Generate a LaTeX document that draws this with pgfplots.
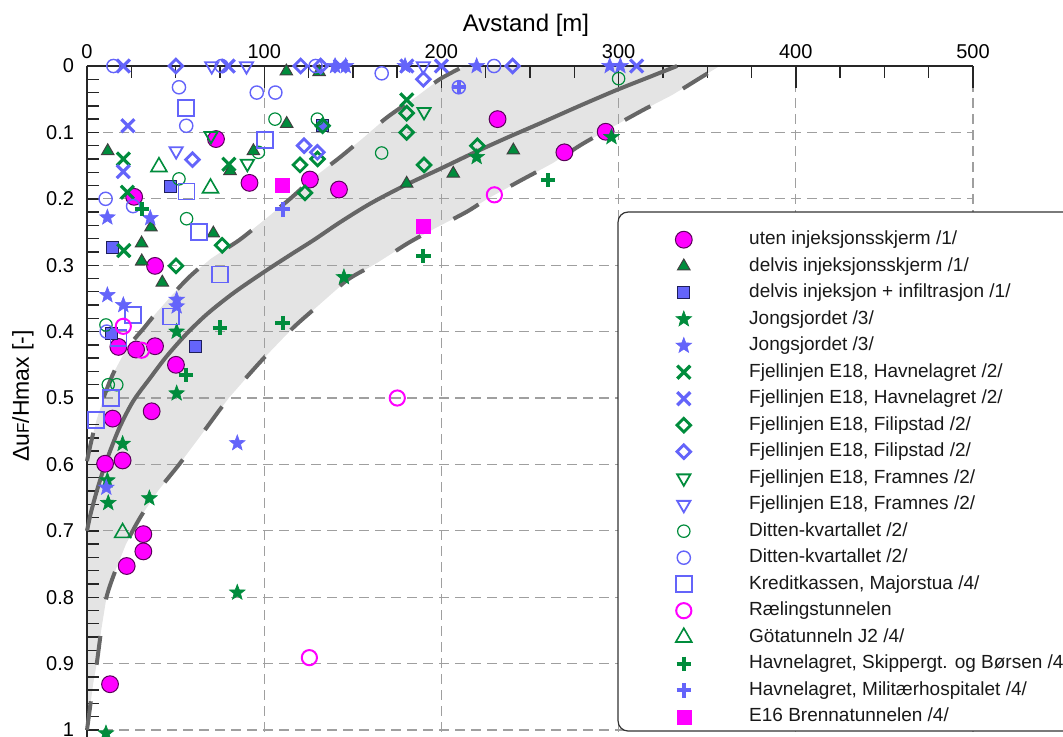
\documentclass[border=0pt]{standalone}
\usepackage{fontspec}
\setmainfont{Liberation Sans}
\usepackage{pgfplots}
\pgfplotsset{compat=1.18}
\usetikzlibrary{plotmarks}
\definecolor{mag}{RGB}{255,0,255}
\definecolor{magd}{RGB}{90,0,90}
\definecolor{grn}{RGB}{0,140,60}
\definecolor{blu}{RGB}{100,100,250}
\definecolor{blud}{RGB}{30,30,90}
\definecolor{crv}{RGB}{102,102,102}
\definecolor{band}{RGB}{228,228,228}

\pgfdeclareplotmark{fstar}{%
  \pgfpathmoveto{\pgfpointpolar{90}{\pgfplotmarksize}}%
  \pgfpathlineto{\pgfpointpolar{126}{0.42\pgfplotmarksize}}%
  \pgfpathlineto{\pgfpointpolar{162}{\pgfplotmarksize}}%
  \pgfpathlineto{\pgfpointpolar{198}{0.42\pgfplotmarksize}}%
  \pgfpathlineto{\pgfpointpolar{234}{\pgfplotmarksize}}%
  \pgfpathlineto{\pgfpointpolar{270}{0.42\pgfplotmarksize}}%
  \pgfpathlineto{\pgfpointpolar{306}{\pgfplotmarksize}}%
  \pgfpathlineto{\pgfpointpolar{342}{0.42\pgfplotmarksize}}%
  \pgfpathlineto{\pgfpointpolar{18}{\pgfplotmarksize}}%
  \pgfpathlineto{\pgfpointpolar{54}{0.42\pgfplotmarksize}}%
  \pgfpathclose
  \pgfusepathqfillstroke
}

\pgfplotsset{
  leg/.style={only marks, legend image code/.code={\path (-20pt,0pt) (32.5pt,0pt);\draw[##1] plot coordinates {(0pt,0pt)};}},
  m1/.style={mark=*, mark size=4.2pt, mark options={fill=mag, draw=magd, line width=0.5pt}},
  m2/.style={mark=triangle*, mark size=3.6pt, mark options={fill=grn, draw=black!75, line width=0.5pt}},
  m3/.style={mark=square*, mark size=3pt, mark options={fill=blu, draw=blud, line width=0.5pt}},
  m4/.style={mark=fstar, mark size=4.1pt, mark options={fill=grn, draw=grn, line width=0.3pt}},
  m5/.style={mark=fstar, mark size=4.1pt, mark options={fill=blu, draw=blu, line width=0.3pt}},
  m6/.style={mark=x, mark size=4.6pt, mark options={draw=grn, line width=1.6pt}},
  m7/.style={mark=x, mark size=4.6pt, mark options={draw=blu, line width=1.6pt}},
  m8/.style={mark=square, mark size=2.4pt, mark options={draw=grn, line width=1.4pt, rotate=45}},
  m9/.style={mark=square, mark size=2.4pt, mark options={draw=blu, line width=1.4pt, rotate=45}},
  m10/.style={mark=triangle, mark size=3.8pt, mark options={draw=grn, line width=0.9pt, rotate=180}},
  m11/.style={mark=triangle, mark size=3.8pt, mark options={draw=blu, line width=0.9pt, rotate=180}},
  m12/.style={mark=o, mark size=3.1pt, mark options={draw=grn, line width=0.6pt}},
  m13/.style={mark=o, mark size=3.3pt, mark options={draw=blu, line width=0.7pt}},
  m14/.style={mark=square, mark size=4pt, mark options={draw=blu, line width=0.8pt}},
  m15/.style={mark=o, mark size=3.8pt, mark options={draw=mag, line width=1pt}},
  m16/.style={mark=triangle, mark size=4.6pt, mark options={draw=grn, line width=0.8pt}},
  m17/.style={mark=+, mark size=3.6pt, mark options={draw=grn, line width=2pt}},
  m18/.style={mark=+, mark size=3.6pt, mark options={draw=blu, line width=2pt}},
  m19/.style={mark=square*, mark size=3.5pt, mark options={fill=mag, draw=mag, line width=0.2pt}},
}

\begin{document}
\begin{tikzpicture}
\begin{axis}[
  set layers,
  at={(0pt,0pt)}, anchor=north west,
  scale only axis, width=443pt, height=338.64pt,
  xmin=0, xmax=500, ymin=0, ymax=1.02,
  y dir=reverse,
  axis x line*=top, axis y line*=left,
  clip=false,
  xtick={0,100,200,300,400,500}, minor x tick num=3,
  ytick={0,0.1,0.2,0.3,0.4,0.5,0.6,0.7,0.8,0.9,1},
  minor ytick={0,0.02,...,1.02},
  tick align=inside,
  major tick length=11pt, minor tick length=6pt,
  major y tick style={draw=none},
  tick style={black!85, line width=0.7pt},
  axis line style={black!85, line width=0.8pt},
  grid=major,
  major grid style={gray!75, line width=0.6pt, dash pattern=on 5pt off 3pt},
  tick label style={font=\fontsize{10}{12}\selectfont, /pgf/number format/assume math mode=true},
  yticklabel style={xshift=-3pt, /pgf/number format/fixed},
  legend cell align=left,
  legend style={
    at={(axis cs:313.77,0.2474)}, anchor=north west,
    draw=none, fill=none, inner sep=0pt,
    font=\fontsize{9.5}{11}\selectfont, text=black!90,
    row sep=4.25pt,
    nodes={inner sep=0pt, text height=7pt, text depth=2pt},
  },
]
% band
\addplot[draw=none, fill=band, on layer=axis background, forget plot] coordinates {
(0,0.595) (2,0.57) (5.4,0.533) (10,0.495) (15,0.462) (22,0.427) (32,0.395) (39,0.372) (48,0.345) (58,0.317) (70,0.29) (86,0.262) (100,0.232) (114.6,0.2) (128,0.168) (143,0.137) (156,0.108) (169,0.078) (186,0.046) (199,0.02) (213,0)
(357,0) (346,0.018) (330,0.044) (314,0.066) (291,0.1) (278,0.12) (263,0.146) (245,0.172) (226,0.2) (214,0.22) (196,0.245) (181,0.267) (164,0.296) (147,0.322) (133,0.355) (116,0.395) (98,0.445) (80,0.5) (66,0.55) (52,0.6) (40,0.64) (30,0.68) (22,0.72) (16,0.76) (11,0.8) (8,0.85) (5.5,0.9) (3.5,0.93) (1.5,0.97) (0,1.0)
} -- cycle;
% curves
\addplot[crv, line width=2pt, smooth, tension=0.5, dash pattern=on 14.5pt off 18.5pt, forget plot] coordinates {
(0,0.595) (2,0.57) (5.4,0.533) (10,0.495) (15,0.462) (22,0.427) (32,0.395) (39,0.372) (48,0.345) (58,0.317) (70,0.29) (86,0.262) (100,0.232) (114.6,0.2) (128,0.168) (143,0.137) (156,0.108) (169,0.078) (186,0.046) (199,0.02) (213,0)};
\addplot[crv, line width=2pt, smooth, tension=0.5, dash pattern=on 14.5pt off 18.5pt, forget plot] coordinates {
(0,1.0) (1.5,0.97) (3.5,0.93) (5.5,0.9) (8,0.85) (11,0.8) (16,0.76) (22,0.72) (30,0.68) (40,0.64) (52,0.6) (66,0.55) (80,0.5) (98,0.445) (116,0.395) (133,0.355) (147,0.322) (164,0.296) (181,0.267) (196,0.245) (214,0.22) (226,0.2) (245,0.172) (263,0.146) (278,0.12) (291,0.1) (314,0.066) (330,0.044) (346,0.018) (357,0)};
\addplot[crv, line width=2pt, smooth, tension=0.5, forget plot] coordinates {
(0,0.70) (2,0.675) (5,0.645) (9,0.61) (13,0.58) (18.6,0.543) (26,0.505) (35.6,0.47) (45,0.437) (56.3,0.403) (68,0.373) (82.6,0.342) (100,0.31) (115,0.284) (128,0.262) (143,0.235) (160,0.207) (180,0.179) (200,0.154) (218,0.131) (237,0.108) (256,0.086) (278,0.06) (299,0.036) (316,0.018) (333,0)};

\addplot[m1, leg] coordinates {(72.8,0.11) (91.7,0.176) (125.8,0.171) (142.2,0.186) (26.6,0.197) (38.4,0.301) (17.7,0.423) (27.7,0.427) (38.4,0.422) (50.2,0.45) (36.5,0.52) (14.5,0.531) (10.2,0.599) (20.1,0.594) (31.8,0.705) (31.8,0.731) (22.4,0.753) (13,0.931) (231.7,0.08) (292.7,0.099) (269.4,0.13)};
\addlegendentry{uten injeksjonsskjerm /1/}
\addplot[m2, leg] coordinates {(112.5,0.008) (131,0.009) (112.7,0.087) (11.7,0.128) (93.9,0.128) (80.7,0.158) (36.1,0.243) (71.3,0.252) (30.8,0.267) (30.9,0.294) (42.5,0.326) (240.6,0.127) (206.7,0.162) (180.4,0.177)};
\addlegendentry{delvis injeksjonsskjerm /1/}
\addplot[m3, leg] coordinates {(133,0.09) (47,0.182) (14.4,0.273) (13.9,0.403) (61.5,0.422)};
\addlegendentry{delvis injeksjon + infiltrasjon /1/}
\addplot[m4, leg] coordinates {(296,0.107) (219.9,0.137) (145,0.318) (50.6,0.4) (50.6,0.493) (20.1,0.569) (11.5,0.624) (12,0.658) (35.2,0.651) (84.8,0.793) (10.7,1.005)};
\addlegendentry{Jongsjordet /3/}
\addplot[m5, leg] coordinates {(11.5,0.228) (35.7,0.229) (11.5,0.345) (20.5,0.36) (50.6,0.352) (50.6,0.362) (84.8,0.568) (10.9,0.635) (140,0) (146,0) (179.5,0) (219.9,0) (295,0) (301,0)};
\addlegendentry{Jongsjordet /3/}
\addplot[m6, leg] coordinates {(20.5,0.14) (80.1,0.148) (22.8,0.19) (20.8,0.278) (180.4,0.051)};
\addlegendentry{Fjellinjen E18, Havnelagret /2/}
\addplot[m7, leg] coordinates {(20.5,0) (79.7,0) (143,0) (180.5,0) (200,0) (310.2,0) (23.1,0.09) (20.5,0.159)};
\addlegendentry{Fjellinjen E18, Havnelagret /2/}
\addplot[m8, leg] coordinates {(133,0.09) (120.2,0.149) (130.1,0.14) (123,0.191) (76.3,0.27) (50.2,0.301) (180.4,0.071) (180.4,0.1) (220.3,0.12) (190.2,0.149)};
\addlegendentry{Fjellinjen E18, Filipstad /2/}
\addplot[m9, leg] coordinates {(50.2,0) (120.6,0) (131.9,0) (240.2,0) (189.8,0.02) (59.5,0.141) (122.5,0.12) (130,0.13)};
\addlegendentry{Fjellinjen E18, Filipstad /2/}
\addplot[m10, leg] coordinates {(70,0.105) (90.5,0.147) (190.2,0.069)};
\addlegendentry{Fjellinjen E18, Framnes /2/}
\addplot[m11, leg] coordinates {(70.4,0) (90,0) (189.8,0) (50.3,0.128)};
\addlegendentry{Fjellinjen E18, Framnes /2/}
\addplot[m12, leg] coordinates {(106.1,0.08) (130,0.08) (96.7,0.13) (51.9,0.17) (56.2,0.23) (300,0.019) (166.3,0.131) (10.7,0.39) (12,0.48) (16.8,0.48)};
\addlegendentry{Ditten-kvartallet /2/}
\addplot[m13, leg] coordinates {(14.9,0) (76,0) (129,0) (229.7,0) (166.3,0.011) (51.9,0.032) (95.8,0.04) (106.3,0.04) (56,0.09) (10.5,0.2) (26,0.211) (209.8,0.032) (11.1,0.4)};
\addlegendentry{Ditten-kvartallet /2/}
\addplot[m14, leg] coordinates {(55.7,0.063) (100.5,0.111) (56.2,0.189) (63.2,0.25) (75,0.314) (26.1,0.375) (47.4,0.377) (17.7,0.41) (13.5,0.5) (5.1,0.533)};
\addlegendentry{Kreditkassen, Majorstua /4/}
\addplot[m15, leg] coordinates {(229.9,0.194) (175.1,0.5) (125.5,0.891) (20.5,0.392) (30.8,0.428)};
\addlegendentry{Rælingstunnelen}
\addplot[m16, leg] coordinates {(40.6,0.152) (69.7,0.184) (20.1,0.703)};
\addlegendentry{Götatunneln J2 /4/}
\addplot[m17, leg] coordinates {(31,0.215) (260,0.172) (189.8,0.286) (75,0.394) (110.4,0.387) (55.7,0.465)};
\addlegendentry{Havnelagret, Skippergt. og Børsen /4/}
\addplot[m18, leg] coordinates {(110.4,0.216) (209.8,0.032)};
\addlegendentry{Havnelagret, Militærhospitalet /4/}
\addplot[m19, leg] coordinates {(110.4,0.18) (189.8,0.241)};
\addlegendentry{E16 Brennatunnelen /4/}

\draw[rounded corners=5pt, fill=white, draw=black!80, line width=0.6pt] (axis cs:299.7,0.2199) rectangle (axis cs:570,1.0015);
\end{axis}
\node[font=\fontsize{12}{14}\selectfont] at (219.5pt,20.5pt) {Avstand [m]};
\node[rotate=90, font=\fontsize{11.5}{14}\selectfont] at (-32pt,-165pt) {Δu{\fontsize{8.5}{10}\selectfont F}/Hmax [-]};
\pgfresetboundingbox
\useasboundingbox (-43.5pt,33pt) rectangle (488pt,-335pt);
\end{tikzpicture}
\end{document}
